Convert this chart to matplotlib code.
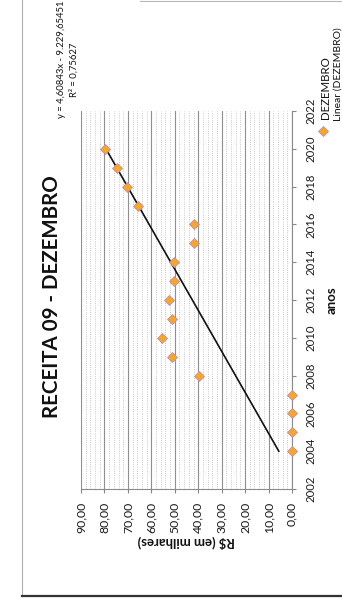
import numpy as np
import matplotlib
matplotlib.use("Agg")
import matplotlib.pyplot as plt
from matplotlib.ticker import MultipleLocator, FuncFormatter

plt.rcParams['font.family'] = ['Lato', 'DejaVu Sans']

anos = [2004, 2005, 2006, 2007, 2008, 2009, 2010, 2011, 2012,
        2013, 2014, 2015, 2016, 2017, 2018, 2019, 2020]
dezembro = [0.0, 0.0, 0.0, 0.0, 39.7, 51.3, 55.6, 51.3, 52.6,
            50.4, 50.4, 41.9, 41.9, 65.8, 70.5, 74.8, 79.9]

# trendline coefficients as printed in the chart
coef_a = 4.60843
coef_b = -9229.65451
equacao = "y = 4,60843x - 9.229,65451"
r2_texto = "R² = 0,75627"

ano_ticks = list(range(2002, 2023, 2))
valor_ticks = list(range(0, 91, 10))

W, H = 342, 603
fig = plt.figure(figsize=(W / 100, H / 100), dpi=100)


def fx(px):
    return px / W


def fy(py):
    return 1 - py / H


# plot area in pixels: value 90 at x=81, value 0 at x=292, 2022 at y=111, 2002 at y=489
ax = fig.add_axes([fx(81), fy(489), fx(292) - fx(81), fy(111) - fy(489)])
ax.set_xlim(90, 0)
ax.set_ylim(2002, 2022)

ax.xaxis.set_major_locator(MultipleLocator(10))
ax.xaxis.set_minor_locator(MultipleLocator(2))
ax.grid(axis='x', which='major', color='#8f8f8f', lw=0.8)
ax.grid(axis='x', which='minor', color='#b5b5b5', lw=0.6, ls=':')
ax.set_axisbelow(True)

ax.set_xticks(valor_ticks)
ax.xaxis.set_major_formatter(FuncFormatter(lambda v, p: f"{v:.2f}".replace('.', ',')))
ax.set_yticks(ano_ticks)
ax.yaxis.tick_right()

ax.tick_params(axis='x', which='major', direction='out', length=3, color='#888888',
               labelsize=8.8, labelrotation=90, pad=6, labelcolor='#1a1a1a')
ax.tick_params(axis='x', which='minor', length=0)
ax.tick_params(axis='y', direction='out', length=3, color='#888888',
               labelsize=8.2, labelrotation=90, pad=7, labelcolor='#1a1a1a')
for lab in ax.get_yticklabels():
    lab.set_va('center')

for s in ['top', 'left']:
    ax.spines[s].set_visible(False)
for s in ['right', 'bottom']:
    ax.spines[s].set_color('#8a8a8a')
    ax.spines[s].set_linewidth(0.8)

# trendline
anos_arr = np.array(anos)
tend = coef_a * anos_arr + coef_b
ax.plot(tend[[0, -1]], anos_arr[[0, -1]], color='#111111', lw=1.2, zorder=3)

# points
ax.plot(dezembro, anos, ls='none', marker='D', ms=5.6, mfc='#f7a823',
        mec='#c58ab8', mew=0.6, clip_on=False, zorder=4)

# texts (whole chart is turned a quarter turn)
fig.text(fx(52), fy(297), "RECEITA 09 - DEZEMBRO", rotation=90, ha='center', va='center',
         fontsize=14.8, fontweight='bold', color='#111111')
fig.text(fx(61), fy(59), equacao, rotation=90, ha='center', va='center',
         fontsize=6.8, color='#111111')
fig.text(fx(74), fy(70), r2_texto, rotation=90, ha='center', va='center',
         fontsize=6.8, color='#111111')
fig.text(fx(186), fy(542), "R$ (em milhares)", rotation=180, ha='center', va='center',
         fontsize=9.5, fontweight='bold', color='#111111')
fig.text(fx(332), fy(300), "anos", rotation=90, ha='center', va='center',
         fontsize=9.5, fontweight='bold', color='#111111')

# legend
fig.lines.append(plt.Line2D([fx(323)], [fy(131)], ls='none', marker='D', ms=5.6,
                            mfc='#f7a823', mec='#c58ab8', mew=0.6,
                            transform=fig.transFigure))
fig.text(fx(326), fy(119), "DEZEMBRO", rotation=90, ha='center', va='bottom',
         fontsize=8.3, color='#111111')
fig.text(fx(334), fy(121), "Linear (DEZEMBRO)", rotation=90, ha='left', va='bottom',
         fontsize=7.5, color='#111111')

# chart border pieces
fig.lines.append(plt.Line2D([fx(22), fx(22)], [fy(0), fy(595)], color='#b0b0b0', lw=0.8,
                            transform=fig.transFigure))
fig.lines.append(plt.Line2D([fx(22), fx(342)], [fy(596), fy(596)], color='#333333', lw=1.6,
                            transform=fig.transFigure))
fig.lines.append(plt.Line2D([fx(140), fx(342)], [fy(1), fy(1)], color='#b8b8b8', lw=0.8,
                            transform=fig.transFigure))

fig.savefig("out.png", dpi=100)
